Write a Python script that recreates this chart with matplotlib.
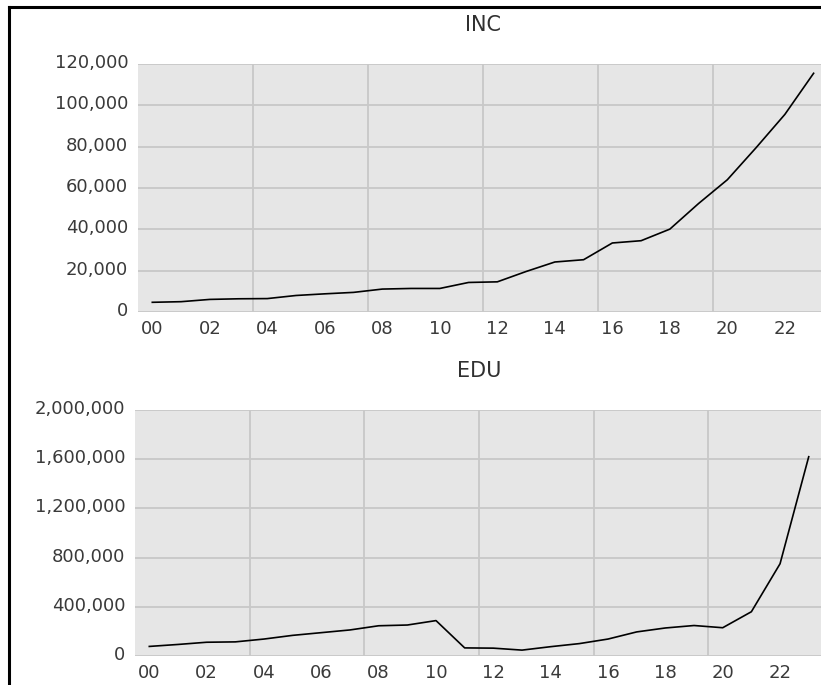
import matplotlib
matplotlib.use('Agg')
from matplotlib import pyplot as plt
from matplotlib.lines import Line2D
from matplotlib.ticker import FuncFormatter
from matplotlib.transforms import ScaledTranslation

# annual series, 2000-2023
years = list(range(2000, 2024))
inc = [4700, 5000, 6100, 6400, 6500, 8000, 8800, 9500, 11100, 11400,
       11400, 14300, 14600, 19600, 24200, 25300, 33400, 34500, 40100, 52500,
       64000, 79500, 95600, 115500]
edu = [78000, 94000, 112000, 115000, 138000, 168000, 190000, 212000, 246000, 252000,
       288000, 66000, 64000, 48000, 76000, 101000, 138000, 196000, 228000, 248000,
       230000, 360000, 750000, 1620000]
year_labels = ['00', '02', '04', '06', '08', '10', '12', '14', '16', '18', '20', '22']

plt.rcParams['font.family'] = 'DejaVu Sans'
txt = '#3a3a3a'

fig = plt.figure(figsize=(8.21, 6.85), dpi=100)
ax1 = fig.add_axes([0.168, 0.5445, 0.8405, 0.3621])
ax2 = fig.add_axes([0.1644, 0.0423, 0.8381, 0.3592])

def style(ax, series, title, ymax, yticks):
    x = list(range(len(years)))
    ax.plot(x, series, color='black', lw=1.2)
    ax.set_xlim(-0.5, len(years) - 0.5)
    ax.set_ylim(0, ymax)
    ax.set_facecolor('#e6e6e6')
    for s in ax.spines.values():
        s.set_visible(False)
    # grid lines at 4-year boundaries, labels every other year
    ax.set_xticks([3.5, 7.5, 11.5, 15.5, 19.5])
    ax.set_xticklabels([])
    ax.set_xticks(range(0, len(years), 2), minor=True)
    ax.set_xticklabels(year_labels, minor=True)
    ax.set_yticks(yticks)
    ax.yaxis.set_major_formatter(FuncFormatter(lambda v, p: f'{int(v):,}'))
    ax.tick_params(which='both', length=0, labelsize=13, colors=txt)
    ax.tick_params(axis='x', which='minor', pad=6)
    ax.tick_params(axis='y', pad=7)
    # y labels sit a little above their grid line
    up = ScaledTranslation(0, 3 / 100, fig.dpi_scale_trans)
    for lab in ax.get_yticklabels():
        lab.set_transform(lab.get_transform() + up)
    ax.grid(True, which='major', color='#c8c8c8', lw=1.3)
    ax.set_axisbelow(True)
    ax.set_title(title, fontsize=15, color='#303030', pad=24)

style(ax1, inc, 'INC', 120000, range(0, 120001, 20000))
style(ax2, edu, 'EDU', 2000000, range(0, 2000001, 400000))

# frame of the screenshot
fig.add_artist(Line2D([0.011, 0.011], [0, 0.9898], color='black', lw=2.2))
fig.add_artist(Line2D([0.011, 1], [0.9898, 0.9898], color='black', lw=2.2))

plt.savefig('out.png', dpi=100)
